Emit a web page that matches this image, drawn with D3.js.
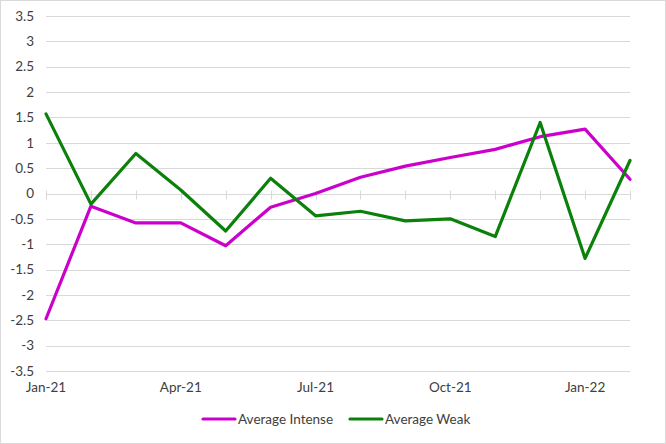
<!DOCTYPE html>
<html><head><meta charset="utf-8">
<script src="https://cdn.jsdelivr.net/npm/d3@7"></script>
<style>body{margin:0;background:#fff}svg{display:block}</style>
</head><body>
<svg id="c" width="666" height="444"></svg>
<script>
const months = ["Jan-21","Feb-21","Mar-21","Apr-21","May-21","Jun-21","Jul-21","Aug-21","Sep-21","Oct-21","Nov-21","Dec-21","Jan-22","Feb-22"];
const intense = [-2.47,-0.25,-0.58,-0.58,-1.03,-0.27,0.0,0.32,0.54,0.71,0.87,1.12,1.27,0.28];
const weak = [1.57,-0.21,0.79,0.07,-0.74,0.30,-0.44,-0.35,-0.54,-0.50,-0.85,1.40,-1.28,0.65];
const yTicks = [-3.5,-3,-2.5,-2,-1.5,-1,-0.5,0,0.5,1,1.5,2,2.5,3,3.5];
const xLabels = ["Jan-21","Apr-21","Jul-21","Oct-21","Jan-22"];
const seriesNames = ["Average Intense","Average Weak"];
const colors = ["#cc00cc","#0b800b"];

const svg = d3.select("#c");
const font = "Lato, 'Open Sans', sans-serif";
const fs = 13.5, tc = "#404040";
svg.append("rect").attr("x",0.5).attr("y",0.5).attr("width",665).attr("height",443)
  .attr("fill","#fff").attr("stroke","#d9d9d9");

const x = d3.scalePoint().domain(months).range([46,630]);
const y = d3.scaleLinear().domain([-3.5,3.5]).range([371,16]);

svg.append("g").selectAll("line").data(yTicks).join("line")
  .attr("x1",46).attr("x2",630).attr("y1",d=>Math.round(y(d))+0.5).attr("y2",d=>Math.round(y(d))+0.5)
  .attr("stroke","#d9d9d9").attr("stroke-width",1);

svg.append("g").selectAll("text").data(yTicks).join("text")
  .attr("x",34).attr("y",d=>y(d)).attr("dy","0.35em").attr("text-anchor","end")
  .attr("font-family",font).attr("font-size",fs).attr("fill",tc)
  .text(d=>d);

const y0 = Math.round(y(0))+0.5;
svg.append("g").selectAll("line").data(months).join("line")
  .attr("x1",d=>Math.round(x(d))+0.5).attr("x2",d=>Math.round(x(d))+0.5)
  .attr("y1",y0-4).attr("y2",y0+5).attr("stroke","#d9d9d9");

svg.append("g").selectAll("text").data(xLabels).join("text")
  .attr("x",d=>x(d)).attr("y",387).attr("dy","0.35em").attr("text-anchor","middle")
  .attr("font-family",font).attr("font-size",fs).attr("fill",tc)
  .text(d=>d);

const line = d3.line().x((d,i)=>x(months[i])).y(d=>y(d));
[intense, weak].forEach((s,i)=>{
  svg.append("path").datum(s).attr("d",line).attr("fill","none")
    .attr("stroke",colors[i]).attr("stroke-width",3.2).attr("stroke-linejoin","round").attr("stroke-linecap","round");
});

const legX = [203,350];
seriesNames.forEach((n,i)=>{
  svg.append("line").attr("x1",legX[i]).attr("x2",legX[i]+32).attr("y1",419).attr("y2",419)
    .attr("stroke",colors[i]).attr("stroke-width",3.2).attr("stroke-linecap","round");
  svg.append("text").attr("x",legX[i]+35).attr("y",419).attr("dy","0.35em")
    .attr("font-family",font).attr("font-size",fs).attr("fill",tc).text(n);
});
</script>
</body></html>
